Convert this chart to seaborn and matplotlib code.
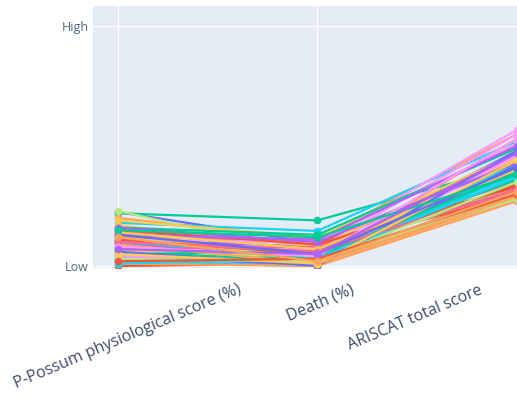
import matplotlib
matplotlib.use("Agg")
import matplotlib.pyplot as plt
import matplotlib.transforms as mtransforms
import seaborn as sns
import pandas as pd
import numpy as np

# ---- data (normalised: Low = 0, High = 1) ----
dimensions = ["P-Possum physiological score (%)", "Death (%)", "ARISCAT total score"]
ytick_labels = ["Low", "High"]

ppossum = [0.225, 0.14, 0.22, 0.10, 0.20, 0.18, 0.12, 0.23, 0.16, 0.19,
           0.08, 0.13, 0.06, 0.11, 0.15, 0.04, 0.09, 0.07, 0.05, 0.17,
           0.12, 0.00, 0.16, 0.09, 0.13, 0.02, 0.14, 0.08, 0.11, 0.06,
           0.03, 0.15, 0.05, 0.13, 0.01, 0.10, 0.07, 0.12, 0.04, 0.14,
           0.06, 0.11, 0.02, 0.16, 0.09, 0.01, 0.10, 0.03, 0.08, 0.05,
           0.13, 0.02, 0.15, 0.07, 0.12]
death = [0.095, 0.07, 0.19, 0.05, 0.11, 0.146, 0.06, 0.04, 0.09, 0.12,
         0.03, 0.10, 0.02, 0.08, 0.01, 0.02, 0.05, 0.03, 0.07, 0.08,
         0.04, 0.01, 0.13, 0.06, 0.03, 0.00, 0.09, 0.02, 0.10, 0.05,
         0.01, 0.09, 0.06, 0.11, 0.00, 0.04, 0.08, 0.03, 0.02, 0.07,
         0.00, 0.05, 0.04, 0.10, 0.01, 0.03, 0.06, 0.02, 0.04, 0.01,
         0.05, 0.03, 0.12, 0.05, 0.02]
ariscat = [0.45, 0.30, 0.42, 0.48, 0.55, 0.52, 0.36, 0.33, 0.567, 0.50,
           0.40, 0.31, 0.37, 0.46, 0.28, 0.43, 0.34, 0.29, 0.55, 0.47,
           0.39, 0.32, 0.49, 0.44, 0.53, 0.41, 0.35, 0.30, 0.51, 0.45,
           0.42, 0.33, 0.36, 0.50, 0.27, 0.38, 0.31, 0.28, 0.46, 0.40,
           0.48, 0.34, 0.39, 0.43, 0.29, 0.37, 0.32, 0.35, 0.53, 0.44,
           0.41, 0.30, 0.38, 0.47, 0.31]

plotly_colors = ['#636EFA', '#EF553B', '#00CC96', '#AB63FA', '#FFA15A',
                 '#19D3F3', '#FF6692', '#B6E880', '#FF97FF', '#FECB52']

n = len(ppossum)
rows = []
for i in range(n):
    for j, vals in enumerate([ppossum, death, ariscat]):
        rows.append({"id": i, "pos": j, "value": vals[i]})
df = pd.DataFrame(rows)
palette = {i: plotly_colors[i % 10] for i in range(n)}

sns.set_theme(style="white")
plt.rcParams['font.family'] = ['Open Sans', 'DejaVu Sans']

fig = plt.figure(figsize=(5.17, 4.03), dpi=100)
ax = fig.add_axes([93 / 517, 1 - 268 / 403, (517 - 93) / 517, (268 - 6) / 403])
ax.set_facecolor('#E5ECF6')

sns.lineplot(data=df, x="pos", y="value", hue="id", palette=palette,
             marker="o", markersize=5.5, markeredgewidth=0, linewidth=1.6,
             estimator=None, sort=False, legend=False, ax=ax, zorder=3)

ax.set_xlim(-0.125, 2.0015)
ax.set_ylim(-0.0083, 1.0833)
ax.set_xticks([0, 1, 2])
ax.set_yticks([0, 1])
ax.set_yticklabels(ytick_labels)
ax.set_xticklabels(dimensions, rotation=23, ha='center', va='top',
                   rotation_mode='default')
ax.grid(True, color='white', linewidth=0.8, zorder=0)
ax.set_axisbelow(True)
for s in ax.spines.values():
    s.set_visible(False)
ax.set_xlabel("")
ax.set_ylabel("")
ax.tick_params(axis='x', length=0, pad=10, labelsize=11.5, labelcolor='#3b4d6b')
ax.tick_params(axis='y', length=0, pad=3, labelsize=9, labelcolor='#506784')

offsets_px = [10, 3, -102]
for lab, dx in zip(ax.get_xticklabels(), offsets_px):
    lab.set_transform(lab.get_transform() +
                      mtransforms.ScaledTranslation(dx / 100, 0, fig.dpi_scale_trans))

fig.savefig("out.png", dpi=100)
